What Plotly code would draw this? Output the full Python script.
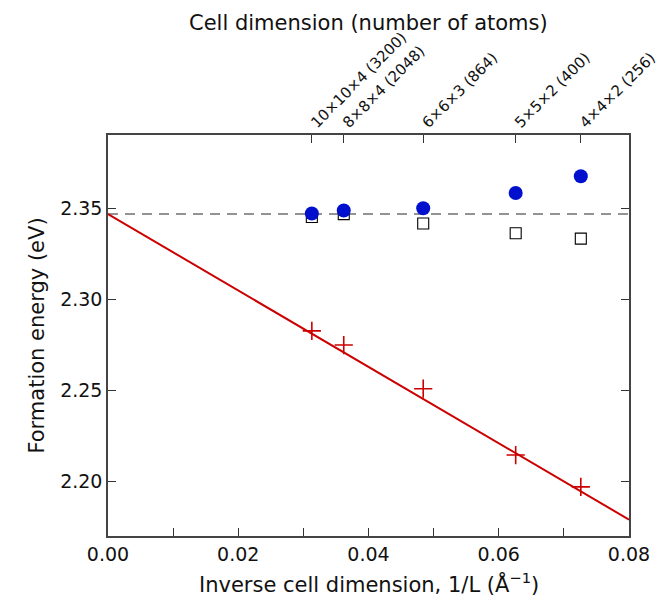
import plotly.graph_objects as go

# Data
inv_L = [0.0313, 0.0362, 0.0484, 0.0626, 0.0726]
cell_labels = ["10×10×4 (3200)", "8×8×4 (2048)", "6×6×3 (864)", "5×5×2 (400)", "4×4×2 (256)"]
energy_corrected = [2.3473, 2.3490, 2.3502, 2.3586, 2.3678]
energy_square = [2.3454, 2.3470, 2.3418, 2.3365, 2.3335]
energy_raw = [2.2828, 2.2750, 2.2510, 2.2145, 2.1970]
fit_x = [0.0, 0.08]
fit_y = [2.347, 2.179]
extrap_x = [0.0, 0.08]
extrap_y = [2.347, 2.347]

FONT = "DejaVu Sans"
TXT = "#111111"
fig = go.Figure()

fig.add_trace(go.Scatter(x=extrap_x, y=extrap_y, mode="lines",
                         line=dict(color="#707070", width=1.5, dash="10px,7px"),
                         showlegend=False))
fig.add_trace(go.Scatter(x=fit_x, y=fit_y, mode="lines",
                         line=dict(color="#cc0000", width=2),
                         showlegend=False))
fig.add_trace(go.Scatter(x=inv_L, y=energy_raw, mode="markers",
                         marker=dict(symbol="cross-thin", size=13,
                                     line=dict(color="#cc0000", width=1.6)),
                         showlegend=False))
fig.add_trace(go.Scatter(x=inv_L, y=energy_square, mode="markers",
                         marker=dict(symbol="square-open", size=11,
                                     color="#000000", line=dict(width=1.1)),
                         showlegend=False))
fig.add_trace(go.Scatter(x=inv_L, y=energy_corrected, mode="markers",
                         marker=dict(symbol="circle", size=14, color="#0010cc",
                                     line=dict(width=0)),
                         showlegend=False))
# invisible trace on top axis
fig.add_trace(go.Scatter(x=inv_L, y=energy_corrected, xaxis="x2", mode="markers",
                         marker=dict(opacity=0), showlegend=False, hoverinfo="skip"))

axis_font = dict(family=FONT, size=19, color=TXT)
fig.update_layout(
    width=668, height=598,
    margin=dict(l=100, r=47, t=127, b=70),
    paper_bgcolor="white", plot_bgcolor="white",
    font=dict(family=FONT, size=19, color=TXT),
    xaxis=dict(range=[0, 0.08], dtick=0.02, tickformat=".2f",
               ticks="inside", ticklen=8, tickwidth=1, tickcolor="#333",
               minor=dict(dtick=0.01, ticks="inside", ticklen=8, tickcolor="#333"),
               showline=True, linecolor="#444", linewidth=1.5, mirror=True,
               showgrid=False, zeroline=False, tickfont=axis_font, automargin=False),
    xaxis2=dict(range=[0, 0.08], overlaying="x", side="top",
                tickvals=inv_L, ticktext=cell_labels, tickangle=-45,
                ticks="inside", ticklen=8, tickcolor="#333",
                showline=False, showgrid=False, zeroline=False, automargin=False,
                tickfont=dict(family=FONT, size=15, color=TXT)),
    yaxis=dict(range=[2.170, 2.3905], tickvals=[2.20, 2.25, 2.30, 2.35],
               tickformat=".2f", ticks="inside", ticklen=8, tickcolor="#333",
               showline=True, linecolor="#444", linewidth=1.5, mirror="ticks",
               showgrid=False, zeroline=False, tickfont=axis_font, automargin=False),
    annotations=[
        dict(text="Cell dimension (number of atoms)", xref="paper", yref="paper",
             x=0.5, y=1.28, xanchor="center", yanchor="middle",
             showarrow=False, font=dict(family=FONT, size=21, color=TXT)),
        dict(text="Inverse cell dimension, 1/L (Å<sup>−1</sup>)", xref="paper", yref="paper",
             x=0.5, y=-0.118, xanchor="center", yanchor="middle",
             showarrow=False, font=dict(family=FONT, size=21, color=TXT)),
        dict(text="Formation energy (eV)", xref="paper", yref="paper",
             x=-0.138, y=0.5, xanchor="center", yanchor="middle", textangle=-90,
             showarrow=False, font=dict(family=FONT, size=21, color=TXT)),
    ],
)

fig.write_html("out.html")
